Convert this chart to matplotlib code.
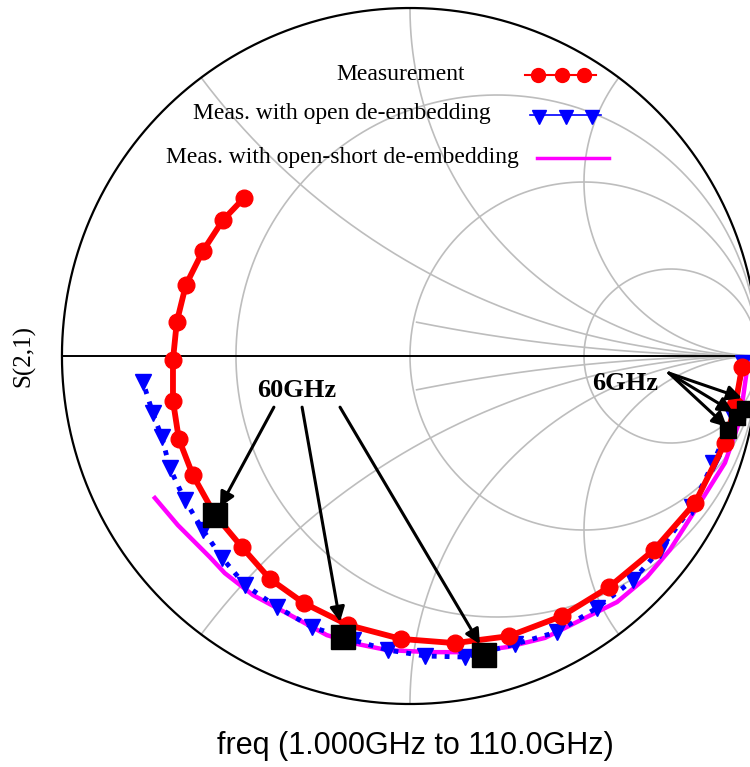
import numpy as np
import matplotlib.pyplot as plt

# S(2,1) traces, real / imaginary parts, ordered from 1 GHz up to 110 GHz
meas_re = [0.954, 0.935, 0.905, 0.819, 0.701, 0.572, 0.437, 0.284, 0.129, -0.026, -0.178, -0.305,
           -0.402, -0.483, -0.560, -0.624, -0.664, -0.681, -0.681, -0.670, -0.644, -0.595, -0.537, -0.477]
meas_im = [-0.032, -0.140, -0.250, -0.422, -0.557, -0.664, -0.747, -0.805, -0.825, -0.813, -0.773, -0.710,
           -0.641, -0.549, -0.457, -0.342, -0.239, -0.129, -0.011, 0.098, 0.204, 0.302, 0.391, 0.454]

open_re = [0.957, 0.928, 0.871, 0.810, 0.718, 0.641, 0.537, 0.422, 0.302, 0.158, 0.043, -0.063,
           -0.164, -0.282, -0.382, -0.474, -0.540, -0.595, -0.647, -0.690, -0.713, -0.739, -0.767]
open_im = [-0.020, -0.175, -0.307, -0.434, -0.557, -0.644, -0.724, -0.793, -0.828, -0.865, -0.862, -0.845,
           -0.816, -0.779, -0.721, -0.658, -0.580, -0.500, -0.414, -0.322, -0.233, -0.164, -0.075]

short_re = [0.971, 0.948, 0.905, 0.833, 0.747, 0.681, 0.595, 0.388, 0.282, 0.172, 0.057, -0.066,
            -0.164, -0.239, -0.345, -0.451, -0.532, -0.575, -0.667, -0.733]
short_im = [-0.020, -0.184, -0.307, -0.422, -0.557, -0.635, -0.707, -0.810, -0.836, -0.851, -0.851, -0.845,
            -0.825, -0.802, -0.744, -0.687, -0.624, -0.578, -0.486, -0.408]

# marker points at 60 GHz and 6 GHz (measurement, open, open-short)
m60_re = [-0.560, -0.193, 0.213]
m60_im = [-0.457, -0.807, -0.859]
m6_re = [0.914, 0.940, 0.963]
m6_im = [-0.213, -0.175, -0.152]

# Smith chart grid values
r_values = [1 / 3, 1, 3]
x_values = [0.5, 1, 2]
x_small = 0.2   # only drawn inside the r=1 circle

fig = plt.figure(figsize=(7.5, 7.67), dpi=100)
ax = fig.add_axes([0, 0, 1, 1])
ax.set_xlim(-1.178, 0.977)
ax.set_ylim(-1.181, 1.023)
ax.axis('off')

grid_col = '#bdbdbd'
t = np.linspace(0, 2 * np.pi, 3000)

# resistance circles
for r in r_values:
    c = r / (1 + r)
    rad = 1 / (1 + r)
    ax.plot(c + rad * np.cos(t), rad * np.sin(t), color=grid_col, lw=1.2, zorder=1)


def x_arc(x, sign, limit):
    xr = 1 + np.cos(t) / x
    xi = sign / x + np.sin(t) / x
    keep = limit(xr, xi)
    return np.where(keep, xr, np.nan), np.where(keep, xi, np.nan)


# reactance arcs, kept inside the unit circle
for x in x_values:
    for s in [1, -1]:
        xr, xi = x_arc(x, s, lambda a, b: a ** 2 + b ** 2 <= 1.0001)
        ax.plot(xr, xi, color=grid_col, lw=1.2, zorder=1)
for s in [1, -1]:
    xr, xi = x_arc(x_small, s, lambda a, b: (a - 0.5) ** 2 + b ** 2 <= 0.2501)
    ax.plot(xr, xi, color=grid_col, lw=1.2, zorder=1)

# outer rim and real axis
ax.plot(np.cos(t), np.sin(t), color='black', lw=1.6, zorder=2)
ax.plot([-1, 1], [0, 0], color='black', lw=1.4, zorder=2)

# traces
ax.plot(short_re, short_im, color='magenta', lw=3.2, zorder=3)
ax.plot(open_re, open_im, color='blue', lw=3.5, ls=':', marker='v', ms=11, zorder=4)
ax.plot(meas_re, meas_im, color='red', lw=4.2, marker='o', ms=12, zorder=5)

# frequency markers
ax.plot(m60_re, m60_im, ls='none', marker='s', ms=17, color='black', zorder=6)
ax.plot(m6_re, m6_im, ls='none', marker='s', ms=11, color='black', zorder=6)

arrow = dict(arrowstyle='-|>', color='black', lw=2.2, mutation_scale=22, shrinkA=0, shrinkB=0)

ax.text(-0.325, -0.098, '60GHz', fontsize=19, fontweight='bold', family='Liberation Serif',
        ha='center', va='center')
starts60 = [(-0.391, -0.147), (-0.310, -0.147), (-0.201, -0.147)]
ends60 = [(-0.546, -0.434), (-0.201, -0.764), (0.201, -0.828)]
for st, en in zip(starts60, ends60):
    ax.annotate('', xy=en, xytext=st, arrowprops=arrow, zorder=7)

ax.text(0.618, -0.078, '6GHz', fontsize=19, fontweight='bold', family='Liberation Serif',
        ha='center', va='center')
for en in [(0.954, -0.121), (0.928, -0.161), (0.911, -0.204)]:
    ax.annotate('', xy=en, xytext=(0.744, -0.049), arrowprops=arrow, zorder=7)

# legend, drawn by hand
leg_font = dict(fontsize=17, family='Liberation Serif', ha='right', va='center',
                transform=ax.transAxes)
ax.text(465 / 750, 1 - 75 / 767, 'Measurement', **leg_font)
ax.text(491 / 750, 1 - 113 / 767, 'Meas. with open de-embedding', **leg_font)
ax.text(519 / 750, 1 - 157 / 767, 'Meas. with open-short de-embedding', **leg_font)

ax.plot(np.array([525, 596]) / 750, [1 - 75 / 767] * 2, color='red', lw=1.5,
        transform=ax.transAxes, clip_on=False)
ax.plot(np.array([538, 562, 584]) / 750, [1 - 75 / 767] * 3, ls='none', marker='o', ms=10,
        color='red', transform=ax.transAxes, clip_on=False)
ax.plot(np.array([530, 601]) / 750, [1 - 115 / 767] * 2, color='blue', lw=1.2,
        transform=ax.transAxes, clip_on=False)
ax.plot(np.array([539, 566, 592]) / 750, [1 - 117 / 767] * 3, ls='none', marker='v', ms=10,
        color='blue', transform=ax.transAxes, clip_on=False)
ax.plot(np.array([537, 609]) / 750, [1 - 158 / 767] * 2, color='magenta', lw=2.5,
        transform=ax.transAxes, clip_on=False)

# axis captions
fig.text(0.032, 1 - 356 / 767, 'S(2,1)', rotation=90, fontsize=18, family='Liberation Serif',
         ha='center', va='center')
fig.text(415 / 750, 1 - 746 / 767, 'freq (1.000GHz to 110.0GHz)', fontsize=22,
         family='Liberation Sans', ha='center', va='center')

fig.savefig('out.png', dpi=100)
